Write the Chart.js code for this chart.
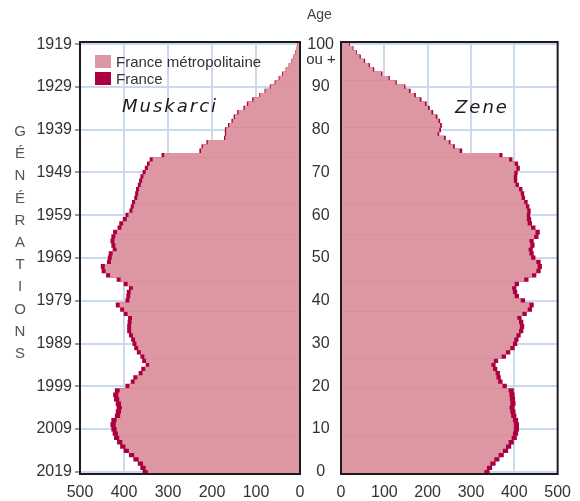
<!DOCTYPE html>
<html>
<head>
<meta http-equiv="Content-Type" content="text/html; charset=UTF-8" />
<script src="https://cdn.jsdelivr.net/npm/chart.js"></script>
<title>Pyramide des âges 2019</title>
<style>
    body { margin:0; background:#fff; }
    #wrap { position:relative; width:580px; height:501px; overflow:hidden;
            font-family:"Liberation Sans",Arial,sans-serif; color:#333; }
    #boxL { position:absolute; left:0; top:0; width:306px; height:501px; }
    #boxR { position:absolute; left:300px; top:0; width:280px; height:501px; }
    .txt { position:absolute; white-space:nowrap; }
    #age { left:307px; top:6px; font-size:14px; color:#444; }
    #ouplus { left:304px; top:51px; width:34px; text-align:center; font-size:15px; line-height:15px; color:#333; }
    #gen { left:12px; top:120px; width:16px; text-align:center; font-size:15px; line-height:22.2px; color:#555; }
    #legend { left:95px; top:54px; font-size:15px; color:#333; }
    #legend div { height:17px; line-height:15px; }
    #legend span { display:inline-block; width:16px; height:13px; margin-right:5px; vertical-align:-1px; }
    .sexe { font-family:"DejaVu Sans",sans-serif; font-style:italic; font-size:18px; letter-spacing:2px; color:#1a1a1a; }
</style>
</head>
<body>
<div id="wrap">
    <div id="boxL"><canvas id="chartL" width="306" height="501"></canvas></div>
    <div id="boxR"><canvas id="chartR" width="280" height="501"></canvas></div>
    <div class="txt" id="age">Age</div>
    <div class="txt" id="ouplus">ou +</div>
    <div class="txt" id="gen"></div>
    <div class="txt" id="legend"></div>
    <div class="txt sexe" style="left:122px; top:95px;">Muskarci</div>
    <div class="txt sexe" style="left:455px; top:96px;">Zene</div>
</div>

<script>
    // effectifs en milliers, âge 0 .. 100 (100 = 100 ans ou +)
    var hommesFrance = [
        357, 362, 368, 378, 388, 400, 408, 415, 422, 425,
        428, 430, 428, 420, 418, 416, 418, 422, 424, 420,
        396, 384, 378, 366, 360, 350, 358, 362, 370, 376,
        380, 383, 388, 392, 392, 391, 390, 400, 408, 418,
        396, 394, 393, 388, 400, 416, 440, 450, 452, 438,
        436, 434, 425, 428, 430, 428, 424, 414, 410, 402,
        396, 387, 384, 381, 376, 374, 372, 368, 365, 362,
        357, 352, 347, 341, 314, 228, 223, 212, 172, 170,
        170, 163, 155, 150, 142, 128, 120, 108, 92, 80,
        68, 57, 48, 40, 32, 25, 19, 14, 10, 7,
        5];
    var hommesMetro = [
        345, 350, 356, 366, 376, 388, 396, 403, 410, 413,
        416, 418, 416, 408, 406, 404, 406, 410, 412, 409,
        387, 375, 369, 357, 351, 342, 349, 353, 361, 367,
        371, 374, 379, 383, 383, 382, 381, 391, 399, 409,
        387, 385, 384, 379, 391, 407, 431, 441, 443, 429,
        427, 425, 416, 419, 421, 419, 415, 405, 401, 393,
        389, 380, 377, 374, 369, 367, 365, 361, 358, 355,
        350, 345, 341, 334, 308, 224, 220, 209, 169, 167,
        167, 160, 152, 147, 139, 125, 117, 105, 90, 78,
        66, 55, 46, 38, 31, 24, 18, 13, 9, 6,
        4];
    var femmesFrance = [
        342, 348, 356, 365, 375, 385, 392, 398, 405, 408,
        410, 410, 408, 404, 402, 400, 402, 401, 400, 398,
        382, 372, 368, 366, 360, 356, 362, 380, 390, 400,
        406, 409, 414, 420, 422, 420, 416, 428, 440, 444,
        424, 410, 406, 404, 410, 432, 450, 460, 463, 460,
        448, 444, 442, 446, 444, 455, 458, 448, 440, 438,
        436, 437, 434, 430, 424, 422, 418, 410, 406, 406,
        407, 412, 408, 395, 372, 279, 262, 252, 241, 226,
        230, 232, 228, 222, 212, 204, 197, 185, 172, 160,
        148, 128, 112, 95, 76, 66, 55, 45, 36, 28,
        20];
    var femmesMetro = [
        330, 336, 344, 353, 363, 373, 380, 386, 393, 396,
        398, 398, 396, 392, 390, 388, 390, 389, 388, 386,
        372, 362, 358, 356, 350, 346, 352, 370, 380, 390,
        396, 399, 404, 410, 412, 410, 406, 418, 430, 434,
        414, 400, 396, 394, 400, 422, 440, 450, 453, 450,
        438, 434, 432, 436, 434, 445, 448, 438, 430, 428,
        428, 429, 426, 422, 416, 414, 410, 402, 398, 398,
        399, 404, 400, 387, 365, 273, 258, 248, 237, 222,
        226, 228, 224, 218, 208, 200, 193, 181, 168, 156,
        145, 125, 109, 92, 73, 63, 52, 42, 34, 26,
        18];

    var ages = Array.from({length: hommesFrance.length}, function(v, i) { return i; });
    var ageTicks = [0, 10, 20, 30, 40, 50, 60, 70, 80, 90, 100];
    var generations = ['2019', '2009', '1999', '1989', '1979', '1969', '1959', '1949', '1939', '1929', '1919'];
    var valueTicks = [0, 100, 200, 300, 400, 500];
    var seriesNames = ['France métropolitaine', 'France'];

    var PINK = '#dc97a3';
    var RED = '#ad0040';
    var GRID = '#cbd9ec';
    var TICK_FONT = {family: '"Liberation Sans",Arial,sans-serif', size: 16};

    var _ = function(id) {
        return document.getElementById(id);
    };

    // texte vertical + légende
    _('gen').innerHTML = 'GÉNÉRATIONS'.split('').join('<br>');
    _('legend').innerHTML =
        '<div><span style="background:' + PINK + '"></span>' + seriesNames[0] + '</div>' +
        '<div><span style="background:' + RED + '"></span>' + seriesNames[1] + '</div>';

    var points = function(values) {
        return ages.map(function(a, i) { return {x: values[i], y: a}; });
    };

    var frame = {
        id: 'frame',
        afterDatasetsDraw: function(chart) {
            var ctx = chart.ctx, a = chart.chartArea;
            ctx.save();
            ctx.strokeStyle = '#1c1c1c';
            ctx.lineWidth = 2;
            ctx.strokeRect(a.left, a.top, a.right - a.left, a.bottom - a.top);
            ctx.restore();
        }
    };

    var gridColor = function(c) {
        return (c.tick.value === 0 || c.tick.value === 500) ? 'rgba(0,0,0,0)' : GRID;
    };

    var makeChart = function(canvasId, metro, total, left) {
        return new Chart(_(canvasId), {
            type: 'bar',
            data: {
                datasets: [
                    {label: seriesNames[0], data: points(metro), backgroundColor: PINK, order: 1},
                    {label: seriesNames[1], data: points(total), backgroundColor: RED, order: 2}
                ]
            },
            options: {
                indexAxis: 'y',
                responsive: false,
                animation: false,
                layout: {padding: left ? {top: 42, right: 6} : {top: 42, right: 18}},
                datasets: {bar: {grouped: false, barPercentage: 1, categoryPercentage: 1, borderWidth: 0}},
                plugins: {legend: {display: false}, tooltip: {enabled: false}},
                scales: {
                    x: {
                        type: 'linear', reverse: left, min: 0, max: 500,
                        afterBuildTicks: function(s) { s.ticks = valueTicks.map(function(v) { return {value: v}; }); },
                        afterFit: function(s) { s.height = 27; },
                        border: {display: false},
                        grid: {color: gridColor, lineWidth: 2, drawTicks: false},
                        ticks: {font: TICK_FONT, color: '#333', padding: 9, autoSkip: false, maxRotation: 0}
                    },
                    y: {
                        type: 'linear', min: -0.5, max: 100.5, offset: false,
                        afterBuildTicks: function(s) { s.ticks = ageTicks.map(function(v) { return {value: v}; }); },
                        afterFit: function(s) { s.width = left ? 80 : 41; },
                        border: {display: false},
                        grid: {color: GRID, lineWidth: 2, offset: false, drawTicks: left, tickLength: 5, tickColor: '#999'},
                        ticks: left ? {
                            font: TICK_FONT, color: '#333', padding: 3, autoSkip: false,
                            callback: function(v) { return generations[ageTicks.indexOf(v)]; }
                        } : {
                            font: TICK_FONT, color: '#333', padding: 7,
                            autoSkip: false, crossAlign: 'center'
                        }
                    }
                }
            },
            plugins: [frame]
        });
    };

    makeChart('chartL', hommesMetro, hommesFrance, true);
    makeChart('chartR', femmesMetro, femmesFrance, false);
</script>
</body>
</html>
